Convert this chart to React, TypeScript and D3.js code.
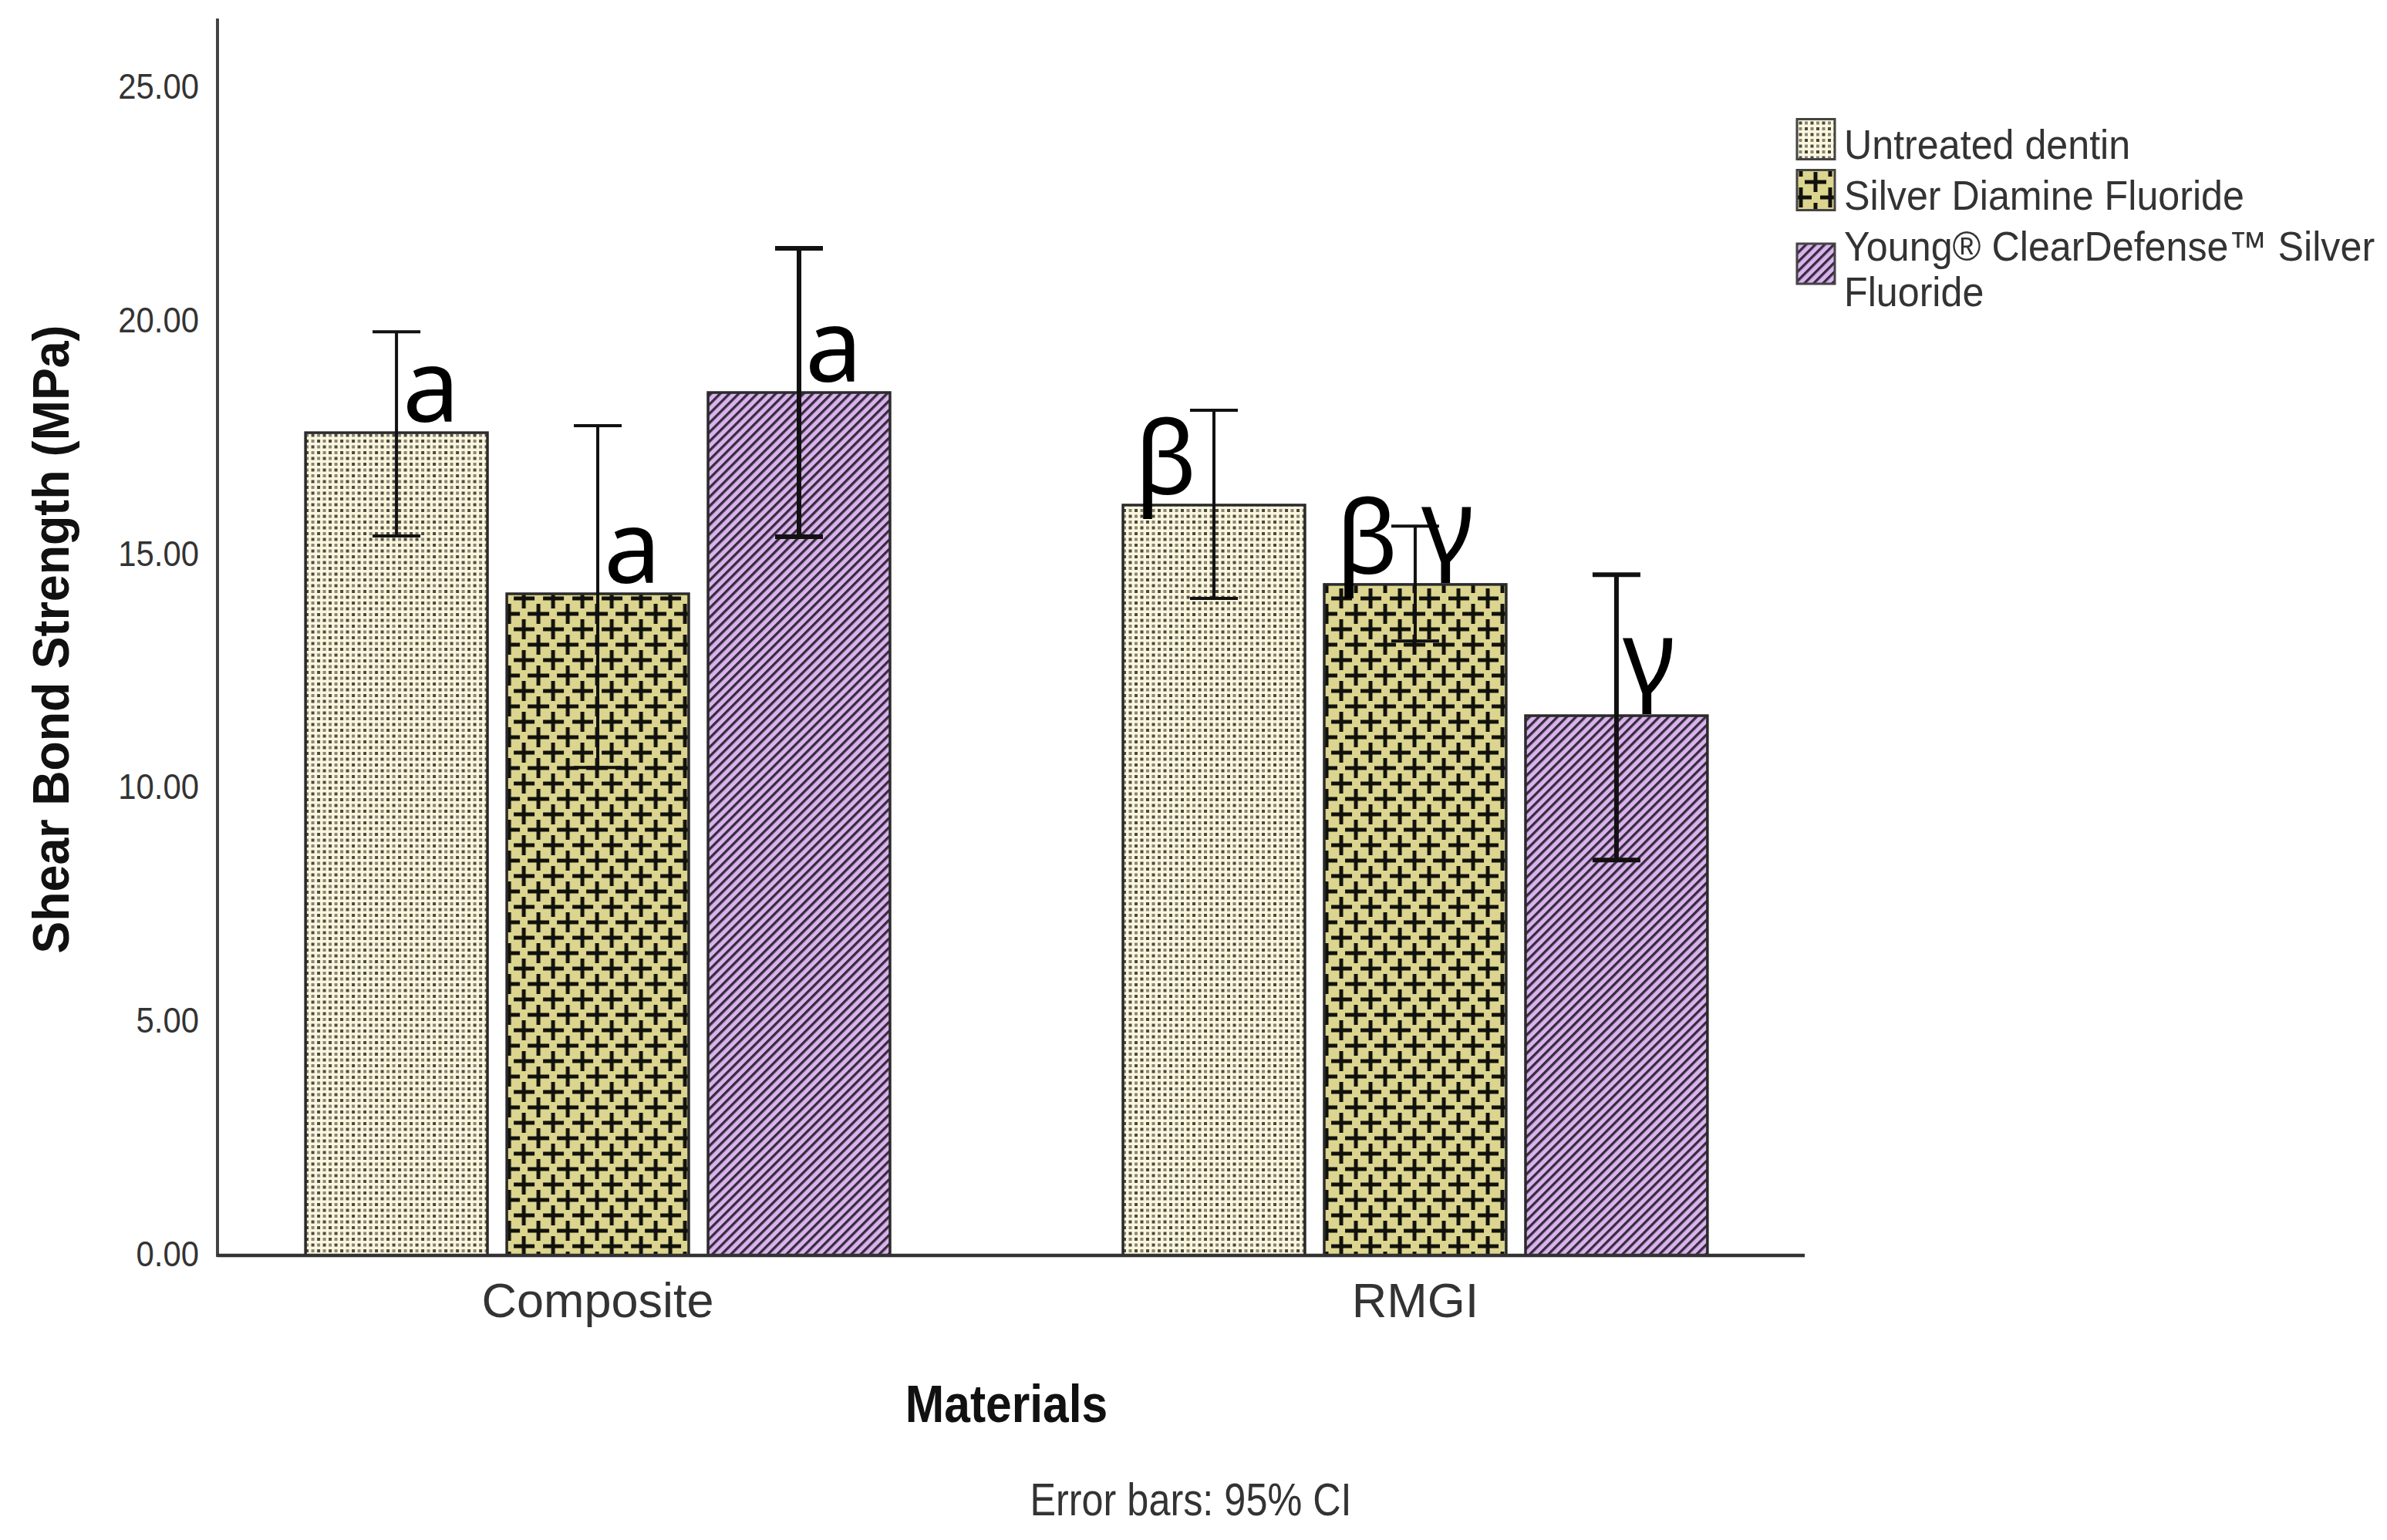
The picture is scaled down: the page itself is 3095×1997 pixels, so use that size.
import { scaleBand, scaleLinear } from "d3";

const materials = ["Composite", "RMGI"];
const treatments = ["Untreated dentin", "Silver Diamine Fluoride", "Young® ClearDefense™ Silver Fluoride"];
// mean shear bond strength (MPa), one row per material, one value per treatment
const means = [
  [17.62, 14.17, 18.48],
  [16.07, 14.37, 11.56],
];
// 95% CI bounds
const ciLow = [
  [15.41, 10.45, 15.39],
  [14.07, 13.16, 8.47],
];
const ciHigh = [
  [19.78, 17.77, 21.57],
  [18.1, 15.62, 14.58],
];
const yTicks = [0, 5, 10, 15, 20, 25];
const legendLines = [["Untreated dentin"], ["Silver Diamine Fluoride"], ["Young® ClearDefense™ Silver", "Fluoride"]];
// significance letters: material index, treatment index, letter, side of the error bar
const sigLetters = [
  { m: 0, t: 0, text: "a", side: "right" },
  { m: 0, t: 1, text: "a", side: "right" },
  { m: 0, t: 2, text: "a", side: "right" },
  { m: 1, t: 0, text: "β", side: "left" },
  { m: 1, t: 1, text: "β", side: "left" },
  { m: 1, t: 1, text: "γ", side: "right" },
  { m: 1, t: 2, text: "γ", side: "right" },
];

const W = 3095;
const H = 1997;
const axisLeft = 282;
const axisRight = 2340;
const axisBottom = 1628;
const axisTop = 24;

const patternIds = ["pat-dots", "pat-plus", "pat-stripe"];
const sans = "'Liberation Sans', Arial, sans-serif";

export default function App() {
  const x0 = scaleBand<string>()
    .domain(materials)
    .range([270, 2340])
    .paddingInner(0.285)
    .paddingOuter(0.119);
  const x1 = scaleBand<string>()
    .domain(treatments)
    .range([0, x0.bandwidth()])
    .paddingInner(0.096);
  const y = scaleLinear().domain([0, 26.49]).range([axisBottom, axisTop]);

  const capHalf = 31;
  const ebWidth = [4, 4, 6];

  return (
    <svg
      width={W}
      height={H}
      viewBox={`0 0 ${W} ${H}`}
      style={{ position: "absolute", left: 0, top: 0, background: "#fff" }}
    >
      <defs>
        <pattern id="pat-dots" width={15} height={15} patternUnits="userSpaceOnUse">
          <rect width={15} height={15} fill="#fcf7dc" />
          <rect x={0} y={0} width={4} height={4} fill="#4a4940" />
          <rect x={7.5} y={7.5} width={4} height={4} fill="#4a4940" />
          <rect x={7.5} y={0} width={4} height={4} fill="#87857a" />
          <rect x={0} y={7.5} width={4} height={4} fill="#87857a" />
        </pattern>
        <pattern id="pat-plus" width={38} height={40} patternUnits="userSpaceOnUse" x={4} y={6}>
          <rect width={38} height={40} fill="#dcd58f" />
          {[
            [13, 10],
            [32, 30],
            [-6, 30],
            [32, -10],
            [-6, -10],
            [13, 50],
          ].map(([cx, cy], i) => (
            <g key={i} stroke="#11110c" strokeWidth={5}>
              <line x1={cx - 14} x2={cx + 14} y1={cy} y2={cy} />
              <line x1={cx} x2={cx} y1={cy - 13} y2={cy + 13} />
            </g>
          ))}
        </pattern>
        <pattern
          id="pat-stripe"
          width={8.5}
          height={8.5}
          patternUnits="userSpaceOnUse"
          patternTransform="rotate(45)"
        >
          <rect width={8.5} height={8.5} fill="#dab2ee" />
          <rect x={0} y={0} width={3.3} height={8.5} fill="#352c3b" />
        </pattern>
      </defs>

      {/* bars */}
      {materials.map((mat, mi) => (
        <g key={mat} transform={`translate(${x0(mat)},0)`}>
          {treatments.map((tr, ti) => (
            <rect
              key={tr}
              x={x1(tr)}
              y={y(means[mi][ti])}
              width={x1.bandwidth()}
              height={y(0) - y(means[mi][ti])}
              fill={`url(#${patternIds[ti]})`}
              stroke="#2a2a2a"
              strokeWidth={3.5}
            />
          ))}
        </g>
      ))}

      {/* error bars */}
      {materials.map((mat, mi) =>
        treatments.map((tr, ti) => {
          const cx = (x0(mat) ?? 0) + (x1(tr) ?? 0) + x1.bandwidth() / 2;
          const yl = y(ciLow[mi][ti]);
          const yh = y(ciHigh[mi][ti]);
          return (
            <g key={mat + tr} stroke="#111" strokeWidth={ebWidth[ti]}>
              <line x1={cx} x2={cx} y1={yh} y2={yl} />
              <line x1={cx - capHalf} x2={cx + capHalf} y1={yh} y2={yh} />
              <line x1={cx - capHalf} x2={cx + capHalf} y1={yl} y2={yl} />
            </g>
          );
        })
      )}

      {/* significance letters */}
      {sigLetters.map((d, i) => {
        const cx = (x0(materials[d.m]) ?? 0) + (x1(treatments[d.t]) ?? 0) + x1.bandwidth() / 2;
        const base = y(means[d.m][d.t]) - (d.text === "γ" ? 30 : 14);
        return (
          <text
            key={i}
            x={d.side === "right" ? cx + 8 : cx - 22}
            y={base}
            textAnchor={d.side === "right" ? "start" : "end"}
            fontFamily="'Noto Sans', 'Open Sans', sans-serif"
            fontSize={132}
            fill="#000"
          >
            {d.text}
          </text>
        );
      })}

      {/* axes */}
      <line x1={axisLeft} x2={axisLeft} y1={axisTop} y2={axisBottom + 2} stroke="#444" strokeWidth={4} />
      <line x1={axisLeft} x2={axisRight} y1={axisBottom} y2={axisBottom} stroke="#333" strokeWidth={4.5} />

      {yTicks.map((t) => (
        <text
          key={t}
          transform={`translate(258,${y(t) + 14}) scale(0.89,1)`}
          textAnchor="end"
          fontFamily={sans}
          fontSize={47}
          fill="#333"
        >
          {t.toFixed(2)}
        </text>
      ))}

      {materials.map((mat) => (
        <text
          key={mat}
          x={(x0(mat) ?? 0) + x0.bandwidth() / 2}
          y={1708}
          textAnchor="middle"
          fontFamily={sans}
          fontSize={63}
          fill="#333"
        >
          {mat}
        </text>
      ))}

      <text
        transform={`translate(89,829) rotate(-90) scale(0.95,1)`}
        textAnchor="middle"
        fontFamily={sans}
        fontWeight="bold"
        fontSize={66}
        fill="#111"
      >
        Shear Bond Strength (MPa)
      </text>

      <text
        transform={`translate(${(axisLeft + axisRight) / 2 - 6},1844) scale(0.89,1)`}
        textAnchor="middle"
        fontFamily={sans}
        fontWeight="bold"
        fontSize={68}
        fill="#111"
      >
        Materials
      </text>

      <text
        transform={`translate(1544,1965) scale(0.84,1)`}
        textAnchor="middle"
        fontFamily={sans}
        fontSize={60}
        fill="#333"
      >
        Error bars: 95% CI
      </text>

      {/* legend */}
      {(() => {
        let cursor = 206;
        return legendLines.map((lines, i) => {
          const first = cursor;
          const last = first + (lines.length - 1) * 59;
          cursor = last + 66;
          const mid = (first - 39 + last) / 2 - 6;
          return (
            <g key={i}>
              <rect
                x={2330}
                y={mid - 26}
                width={49}
                height={52}
                fill={`url(#${patternIds[i]})`}
                stroke="#444"
                strokeWidth={3}
              />
              {lines.map((ln, li) => (
                <text
                  key={li}
                  transform={`translate(2391,${first + li * 59}) scale(0.93,1)`}
                  fontFamily={sans}
                  fontSize={54}
                  fill="#333"
                >
                  {ln}
                </text>
              ))}
            </g>
          );
        });
      })()}
    </svg>
  );
}
